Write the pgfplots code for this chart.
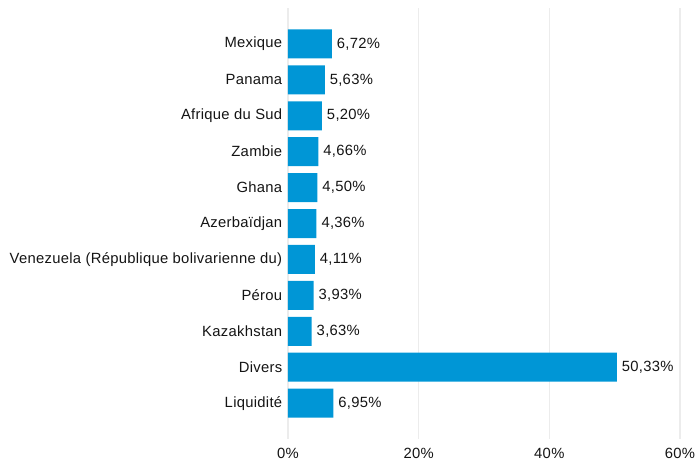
\documentclass[border=0pt]{standalone}
\usepackage{fontspec}
\setmainfont{Liberation Sans}[LetterSpace=2]
\usepackage{pgfplots}
\pgfplotsset{compat=1.18}
\definecolor{barblue}{RGB}{0,150,214}
\definecolor{gridgray}{RGB}{236,236,236}
\definecolor{txt}{RGB}{20,20,20}
\begin{document}
\begin{tikzpicture}
\begin{axis}[name=ax, scale only axis, width=392bp, height=431bp,
  xbar, bar width=29bp,
  xmin=0, xmax=60, ymin=-1, ymax=11, y dir=reverse,
  axis line style={draw=none},
  ytick={0,...,10},
  yticklabels={Mexique,Panama,Afrique du Sud,Zambie,Ghana,Azerbaïdjan,Venezuela (République bolivarienne du),Pérou,Kazakhstan,Divers,Liquidité},
  xtick={0,20,40,60},
  tick style={draw=none},
  xticklabel={\pgfmathprintnumber{\tick}\%},
  /pgf/number format/assume math mode=true,
  xmajorgrids, major grid style={draw=gridgray, line width=1.3bp},
  tick label style={font=\fontsize{14.8bp}{17bp}\selectfont, text=txt},
  xticklabel style={yshift=-6bp},
  yticklabel style={xshift=2bp},
  nodes near coords={\pgfmathprintnumber[fixed,fixed zerofill,precision=2,use comma]{\pgfplotspointmeta}\%},
  nodes near coords style={font=\fontsize{14.8bp}{17bp}\selectfont, text=txt, anchor=west, xshift=1.5bp},
]
\addplot[fill=barblue, draw=none] table[x=v, y=i] {
i v
0 6.72
1 5.63
2 5.20
3 4.66
4 4.50
5 4.36
6 4.11
7 3.93
8 3.63
9 50.33
10 6.95
};
\end{axis}
\pgfresetboundingbox
\path[use as bounding box] ([xshift=-484bp,yshift=-238.5bp]ax.center) rectangle ([xshift=212bp,yshift=223.5bp]ax.center);
\end{tikzpicture}
\end{document}
